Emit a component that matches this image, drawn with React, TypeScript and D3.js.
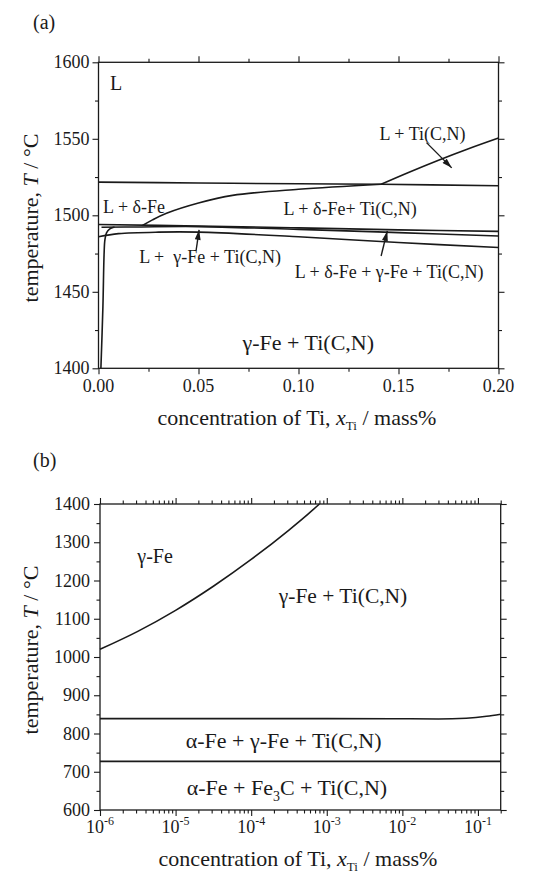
import React, { useEffect, useRef } from "react";
import * as d3 from "d3";

// ---- panel (a): linear x, mass% Ti ----
const aLiquidus = [[0, 1521.7], [0.05, 1521.1], [0.1, 1520.6], [0.1413, 1520.3], [0.2, 1519.3]];
const aDeltaTi = [[0.022, 1493.3], [0.027, 1497], [0.034, 1501.3], [0.05, 1508], [0.067, 1513], [0.1, 1517], [0.1413, 1520.3]];
const aLiqTi = [[0.1413, 1520.3], [0.155, 1528], [0.17, 1536], [0.185, 1543.5], [0.2, 1550.5]];
const aPeritecticTop = [[0, 1494], [0.05, 1493], [0.1, 1491.8], [0.15, 1490.5], [0.2, 1489.5]];
const aPeritecticLow = [[0.0015, 1492.2], [0.02, 1492.4], [0.05, 1492.6], [0.1, 1490.8], [0.15, 1488.7], [0.2, 1486.5]];
const aSolidus = [[0, 1486], [0.01, 1488], [0.03, 1489], [0.05, 1489], [0.1, 1486], [0.15, 1482.2], [0.2, 1479]];
const aSolvus = [[0.0012, 1400], [0.0022, 1440], [0.0028, 1475], [0.0032, 1484], [0.004, 1488.5], [0.0055, 1491], [0.008, 1492.3]];

const aArrows = [
  [[0.0488, 1477], [0.0503, 1490.5]],
  [[0.1413, 1473.4], [0.1444, 1489.8]],
  [[0.164, 1547.5], [0.1766, 1531]],
];

const aXMajor = [0, 0.05, 0.1, 0.15, 0.2];
const aXMinor = [0.025, 0.075, 0.125, 0.175];
const aYMajor = [1400, 1450, 1500, 1550, 1600];
const aYMinor = [1425, 1475, 1525, 1575];

// ---- panel (b): log x ----
const bSolvus = [[1e-6, 1020], [3.16e-6, 1067], [1e-5, 1122], [3.16e-5, 1185], [1e-4, 1255], [3.16e-4, 1332], [5.6e-4, 1373], [8e-4, 1400]];
const bA3 = [[1e-6, 839], [1e-4, 839], [1e-3, 839], [1e-2, 838.5], [3e-2, 838], [7e-2, 840], [0.13, 845], [0.2, 850.5]];
const bA1 = [[1e-6, 727], [1e-3, 727], [0.2, 727]];

const bXExp = [-6, -5, -4, -3, -2, -1];
const bYMajor = [600, 700, 800, 900, 1000, 1100, 1200, 1300, 1400];
const bYMinor = [650, 750, 850, 950, 1050, 1150, 1250, 1350];

const FONT = '"Liberation Serif", "Times New Roman", Times, serif';
const INK = "#1a1a1a";

function drawFrame(g, x, y, xMajor, xMinor, yMajor, yMinor) {
  const w = x.range()[1];
  const h = y.range()[0];
  const sets = [
    [() => d3.axisBottom(x), xMajor, xMinor, `translate(0,${h})`],
    [() => d3.axisTop(x), xMajor, xMinor, "translate(0,0)"],
    [() => d3.axisLeft(y), yMajor, yMinor, "translate(0,0)"],
    [() => d3.axisRight(y), yMajor, yMinor, `translate(${w},0)`],
  ];
  sets.forEach(([make, major, minor, tr]) => {
    [[major, 6], [minor, 3.5]].forEach(([vals, size]) => {
      const a = g
        .append("g")
        .attr("transform", tr)
        .call(make().tickValues(vals).tickSize(size).tickSizeOuter(0).tickFormat(() => ""));
      a.select(".domain").remove();
      a.selectAll("line").attr("stroke", INK).attr("stroke-width", 1.1);
    });
  });
  g.append("rect")
    .attr("width", w)
    .attr("height", h)
    .attr("fill", "none")
    .attr("stroke", INK)
    .attr("stroke-width", 1.3);
}

function addLabel(g, px, py, text, size, anchor = "middle") {
  return g
    .append("text")
    .attr("x", px)
    .attr("y", py)
    .attr("text-anchor", anchor)
    .attr("font-size", size)
    .style("white-space", "pre")
    .text(text);
}

function yTitle(g, px, py) {
  const t = g
    .append("text")
    .attr("transform", `translate(${px},${py}) rotate(-90)`)
    .attr("text-anchor", "middle")
    .attr("font-size", 22);
  t.append("tspan").text("temperature, ");
  t.append("tspan").attr("font-style", "italic").text("T");
  t.append("tspan").text(" / °C");
}

function xTitle(g, px, py) {
  const t = g
    .append("text")
    .attr("x", px)
    .attr("y", py)
    .attr("text-anchor", "middle")
    .attr("font-size", 22);
  t.append("tspan").text("concentration of Ti, ");
  t.append("tspan").attr("font-style", "italic").text("x");
  t.append("tspan").attr("font-size", 13).attr("dy", 5).text("Ti");
  t.append("tspan").attr("dy", -5).text(" / mass%");
}

export default function App() {
  const svgRef = useRef(null);

  useEffect(() => {
    const svg = d3.select(svgRef.current);
    svg.selectAll("*").remove();
    svg.style("font-family", FONT).attr("fill", INK);

    svg
      .append("defs")
      .append("marker")
      .attr("id", "head")
      .attr("viewBox", "0 0 10 6")
      .attr("refX", 10)
      .attr("refY", 3)
      .attr("markerUnits", "userSpaceOnUse")
      .attr("markerWidth", 11)
      .attr("markerHeight", 6)
      .attr("orient", "auto")
      .append("path")
      .attr("d", "M0,0L10,3L0,6Z")
      .attr("fill", INK);

    // ---------- (a) ----------
    const xA = d3.scaleLinear().domain([0, 0.2]).range([0, 400]);
    const yA = d3.scaleLinear().domain([1400, 1600]).range([306, 0]);
    const gA = svg.append("g").attr("transform", "translate(98.5,62.3)");

    const lineA = d3
      .line()
      .x((d) => xA(d[0]))
      .y((d) => yA(d[1]))
      .curve(d3.curveCatmullRom.alpha(0.5));

    [aLiquidus, aDeltaTi, aLiqTi, aPeritecticTop, aPeritecticLow, aSolidus, aSolvus].forEach((s) => {
      gA.append("path")
        .attr("d", lineA(s))
        .attr("fill", "none")
        .attr("stroke", INK)
        .attr("stroke-width", 1.6);
    });

    aArrows.forEach((a) => {
      gA.append("path")
        .attr("d", d3.line().x((d) => xA(d[0])).y((d) => yA(d[1]))(a))
        .attr("stroke", INK)
        .attr("stroke-width", 1.4)
        .attr("marker-end", "url(#head)");
    });

    drawFrame(gA, xA, yA, aXMajor, aXMinor, aYMajor, aYMinor);

    aXMajor.forEach((v) => addLabel(gA, xA(v), 306 + 24, d3.format(".2f")(v), 18));
    aYMajor.forEach((v) => addLabel(gA, -9, yA(v) + 6, String(v), 18, "end"));

    addLabel(gA, xA(0.00575), yA(1582), "L", 20, "start");
    addLabel(gA, xA(0.162), yA(1549.5), "L + Ti(C,N)", 18);
    addLabel(gA, xA(0.0178), yA(1501.6), "L + δ-Fe", 18);
    addLabel(gA, xA(0.1258), yA(1500.2), "L + δ-Fe+ Ti(C,N)", 18);
    addLabel(gA, xA(0.0558), yA(1468.6), "L +  γ-Fe + Ti(C,N)", 18);
    addLabel(gA, xA(0.1453), yA(1458.8), "L + δ-Fe + γ-Fe + Ti(C,N)", 18);
    addLabel(gA, xA(0.1049), yA(1412), "γ-Fe + Ti(C,N)", 22);

    addLabel(svg, 33, 29, "(a)", 20, "start");
    yTitle(svg, 38, 218);
    xTitle(svg, 297, 425);

    // ---------- (b) ----------
    const xB = d3.scaleLog().domain([1e-6, 0.2]).range([0, 400.7]);
    const yB = d3.scaleLinear().domain([600, 1400]).range([306, 0]);
    const gB = svg.append("g").attr("transform", "translate(100,504)");

    const bXMajor = bXExp.map((e) => Math.pow(10, e));
    const bXMinor = [];
    bXExp.forEach((e) => {
      for (let k = 2; k <= 9; k++) {
        const v = k * Math.pow(10, e);
        if (v <= 0.2 + 1e-9) bXMinor.push(v);
      }
    });

    const lineB = d3
      .line()
      .x((d) => xB(d[0]))
      .y((d) => yB(d[1]))
      .curve(d3.curveMonotoneX);

    [bSolvus, bA3, bA1].forEach((s) => {
      gB.append("path")
        .attr("d", lineB(s))
        .attr("fill", "none")
        .attr("stroke", INK)
        .attr("stroke-width", 1.6);
    });

    drawFrame(gB, xB, yB, bXMajor, bXMinor, bYMajor, bYMinor);

    bXExp.forEach((e) => {
      const t = gB
        .append("text")
        .attr("x", xB(Math.pow(10, e)))
        .attr("y", 306 + 23)
        .attr("text-anchor", "middle")
        .attr("font-size", 18);
      t.append("tspan").text("10");
      t.append("tspan").attr("font-size", 12).attr("dy", -8).text(String(e));
    });
    bYMajor.forEach((v) => addLabel(gB, -10, yB(v) + 6, String(v), 18, "end"));

    addLabel(gB, xB(5.36e-6), yB(1245), "γ-Fe", 20);
    addLabel(gB, xB(1.64e-3), yB(1140), "γ-Fe + Ti(C,N)", 21.5);
    addLabel(gB, xB(2.69e-4), yB(761), "α-Fe + γ-Fe + Ti(C,N)", 22);
    const fe3c = gB
      .append("text")
      .attr("x", xB(2.97e-4))
      .attr("y", yB(639))
      .attr("text-anchor", "middle")
      .attr("font-size", 22);
    fe3c.append("tspan").text("α-Fe + Fe");
    fe3c.append("tspan").attr("font-size", 14).attr("dy", 6).text("3");
    fe3c.append("tspan").attr("dy", -6).text("C + Ti(C,N)");

    addLabel(svg, 33, 467, "(b)", 20, "start");
    yTitle(svg, 38, 650);
    xTitle(svg, 298, 866);
  }, []);

  return (
    <div style={{ position: "absolute", left: 0, top: 0 }}>
      <svg ref={svgRef} width={543} height={873} style={{ display: "block", background: "#fff" }} />
    </div>
  );
}
